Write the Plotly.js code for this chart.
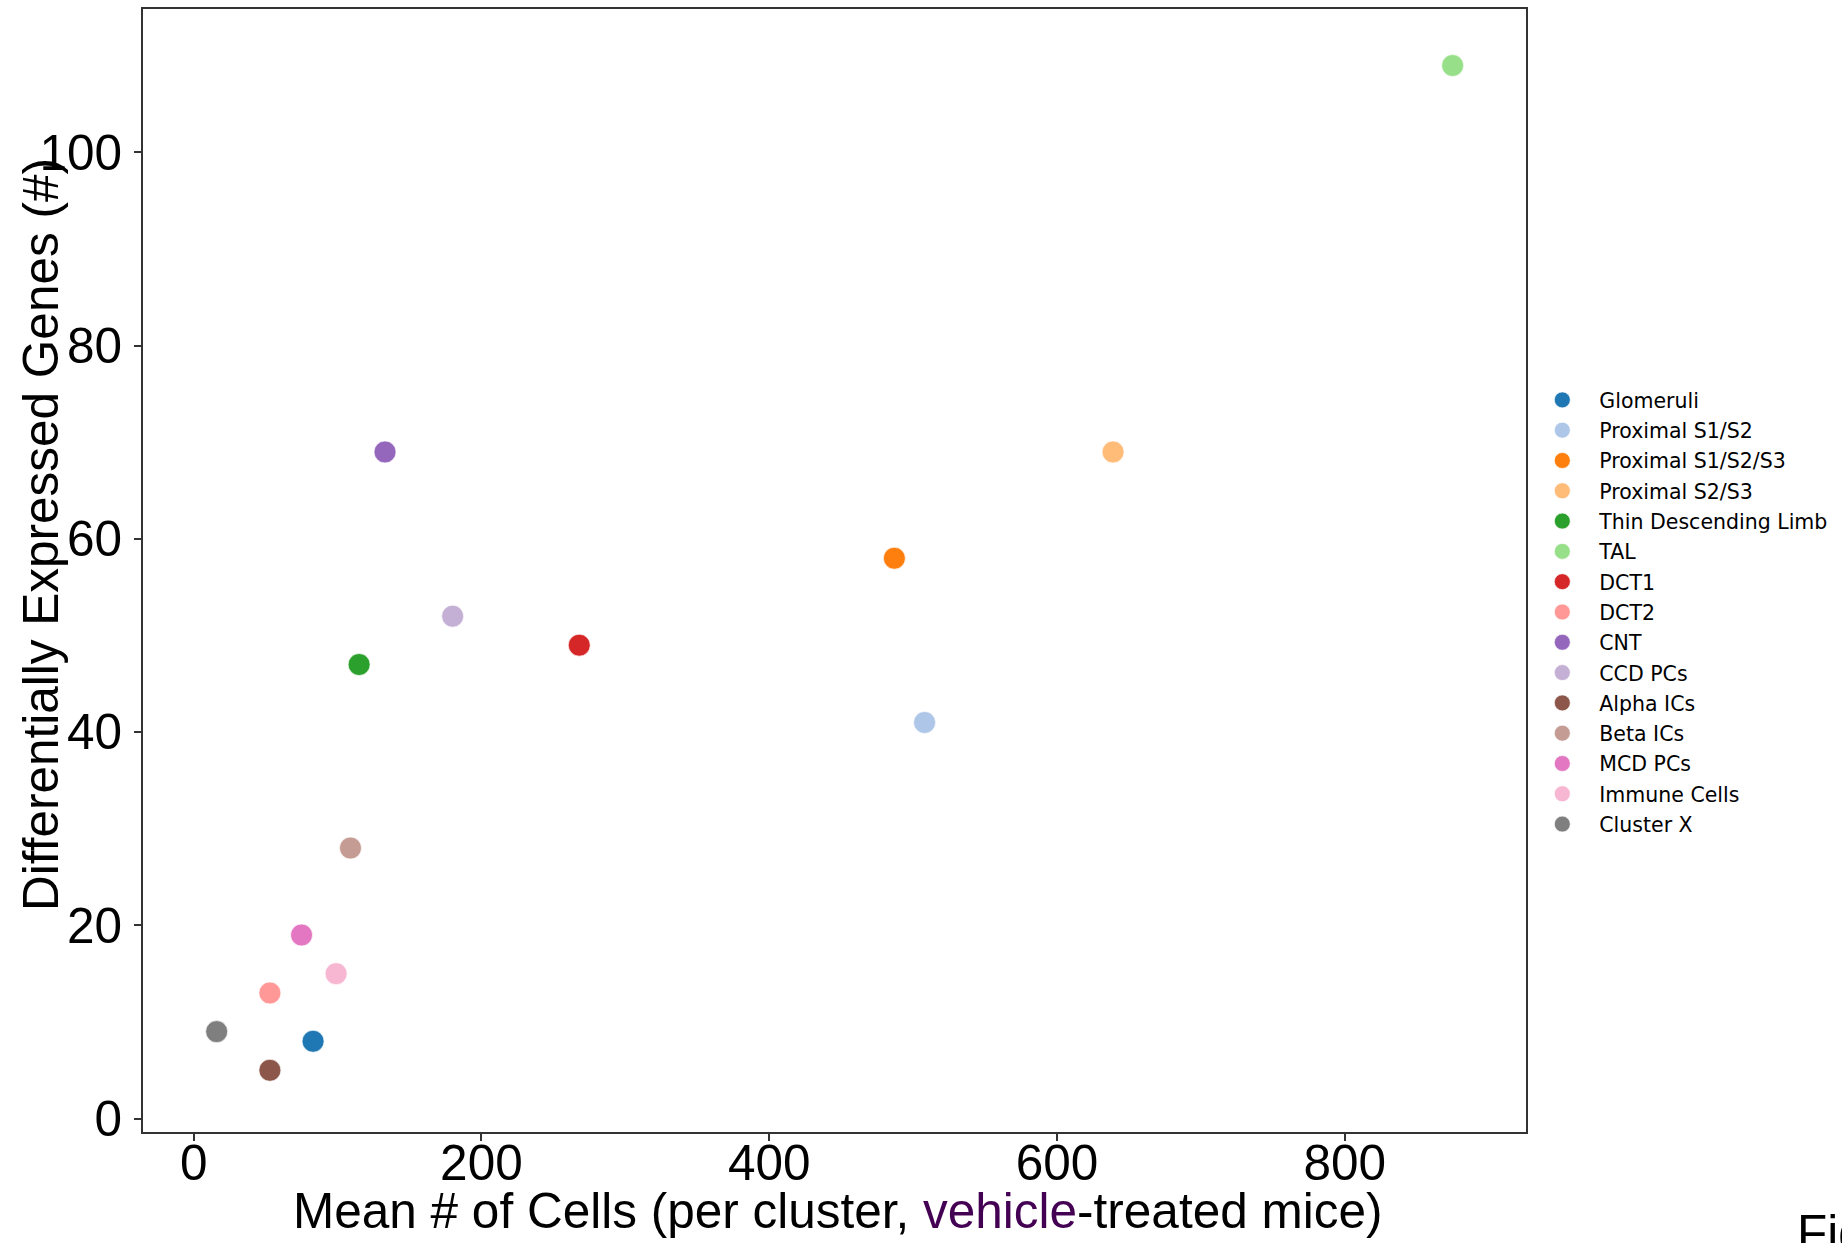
<!DOCTYPE html>
<html>
<head>
<meta charset="utf-8">
<script src="https://cdn.plot.ly/plotly-3.0.1.min.js"></script>
<style>html,body{margin:0;padding:0;background:#fff;}#chart{width:1842px;height:1243px;}</style>
</head>
<body>
<div id="chart"></div>
<script>
const categories = ["Glomeruli","Proximal S1/S2","Proximal S1/S2/S3","Proximal S2/S3","Thin Descending Limb","TAL","DCT1","DCT2","CNT","CCD PCs","Alpha ICs","Beta ICs","MCD PCs","Immune Cells","Cluster X"];
const meanCells = [83, 508, 487, 639, 115, 875, 268, 53, 133, 180, 53, 109, 75, 99, 16];
const degCounts = [8, 41, 58, 69, 47, 109, 49, 13, 69, 52, 5, 28, 19, 15, 9];
const colors = ["#1f77b4","#aec7e8","#ff7f0e","#ffbb78","#2ca02c","#98df8a","#d62728","#ff9896","#9467bd","#c5b0d5","#8c564b","#c49c94","#e377c2","#f7b6d2","#7f7f7f"];
const xTicks = [0, 200, 400, 600, 800];
const yTicks = [0, 20, 40, 60, 80, 100];

const traces = categories.map((name, i) => ({
  type: 'scatter',
  mode: 'markers',
  name: name,
  legendgroup: 'g' + i,
  x: [meanCells[i]],
  y: [degCounts[i]],
  marker: {size: 22, color: colors[i], line: {color: '#ffffff', width: 0.7}},
  hoverinfo: 'name+x+y'
}));

const bigFont = {family: 'Liberation Sans, Arial, sans-serif', size: 49.5, color: '#000'};

const layout = {
  width: 1842, height: 1243,
  margin: {l: 143, r: 316, t: 9, b: 111, autoexpand: false},
  paper_bgcolor: '#fff', plot_bgcolor: '#fff',
  showlegend: true,
  legend: {
    x: 0.9995, xanchor: 'left', y: 0.463, yanchor: 'middle',
    font: {family: 'DejaVu Sans, sans-serif', size: 20.5, color: '#000'},
    bgcolor: 'rgba(0,0,0,0)', borderwidth: 0, itemsizing: 'trace',
    itemwidth: 64, traceorder: 'grouped', tracegroupgap: 0.65
  },
  xaxis: {
    range: [-35.2, 926], tickvals: xTicks, ticktext: xTicks.map(String),
    showgrid: false, zeroline: false,
    showline: true, linecolor: '#333', linewidth: 2, mirror: true,
    ticks: 'outside', ticklen: 7, tickwidth: 1.5, tickcolor: '#333',
    tickfont: bigFont, ticklabelstandoff: -20
  },
  yaxis: {
    range: [-1.39, 114.85], tickvals: yTicks, ticktext: yTicks.map(String),
    showgrid: false, zeroline: false,
    showline: true, linecolor: '#333', linewidth: 2, mirror: true,
    ticks: 'outside', ticklen: 7, tickwidth: 1.5, tickcolor: '#333',
    tickfont: bigFont, ticklabelstandoff: 2
  },
  annotations: [
    {text: 'Mean # of Cells (per cluster, <span style="color:#440154">vehicle</span>-treated mice)',
     xref: 'paper', yref: 'paper', x: 0.5025, y: -0.0695, xanchor: 'center', yanchor: 'middle',
     showarrow: false, font: bigFont},
    {text: 'Differentially Expressed Genes (#)', xref: 'paper', yref: 'paper', x: -0.0745, y: 0.5325,
     xanchor: 'center', yanchor: 'middle', textangle: -90, showarrow: false, font: bigFont},
    {text: 'Fig', xref: 'paper', yref: 'paper', x: 1.1945, y: -0.0633, xanchor: 'left', yanchor: 'top',
     showarrow: false, font: bigFont}
  ]
};

Plotly.newPlot('chart', traces, layout, {displayModeBar: false, responsive: false});
</script>
</body>
</html>
